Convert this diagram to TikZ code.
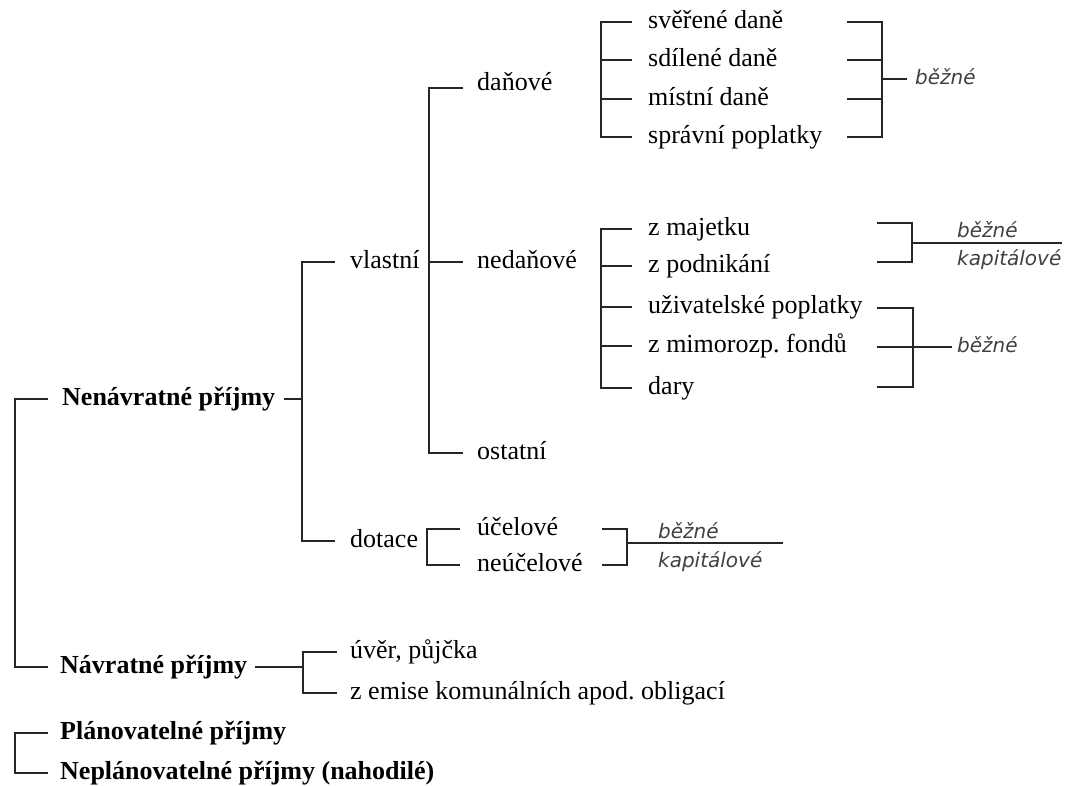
\documentclass[tikz,border=0pt]{standalone}
\usepackage{fontspec}
\setmainfont{Liberation Serif}
\newfontfamily\labfont{DejaVu Sans}
\frenchspacing
\begin{document}
\begin{tikzpicture}[x=1pt,y=-1pt,
  line/.style={line width=1.6pt, draw=black!85},
  txt/.style={anchor=west, inner sep=0pt, font=\fontsize{26}{30}\selectfont, text height=18pt, text depth=6pt},
  head/.style={txt, font=\fontsize{26}{30}\selectfont\bfseries},
  lab/.style={anchor=west, inner sep=0pt, font=\labfont\itshape\fontsize{20}{24}\selectfont, text=black!75, text height=15pt, text depth=5pt}]
\useasboundingbox[fill=white] (0,0) rectangle (1070,785);

% main nodes
\node[head] (nen) at (62,399) {Nenávratné příjmy};
\node[head] (nav) at (60,667) {Návratné příjmy};
\node[head] (pla) at (60,733) {Plánovatelné příjmy};
\node[head] (nep) at (60,773) {Neplánovatelné příjmy (nahodilé)};

\node[txt] (vla) at (350,262) {vlastní};
\node[txt] (dot) at (350,541) {dotace};
\node[txt] (dan) at (477,84) {daňové};
\node[txt] (ned) at (477,262) {nedaňové};
\node[txt] (ost) at (477,453) {ostatní};

\node[txt] (sve) at (648,22) {svěřené daně};
\node[txt] (sdi) at (648,60) {sdílené daně};
\node[txt] (mis) at (648,99) {místní daně};
\node[txt] (spr) at (648,137) {správní poplatky};

\node[txt] (zma) at (648,229) {z majetku};
\node[txt] (zpo) at (648,266) {z podnikání};
\node[txt] (uzi) at (648,307) {uživatelské poplatky};
\node[txt] (zmi) at (648,346) {z mimorozp. fondů};
\node[txt] (dar) at (648,388) {dary};

\node[txt] (uce) at (477,529) {účelové};
\node[txt] (neu) at (477,565) {neúčelové};

\node[txt] (uve) at (350,652) {úvěr, půjčka};
\node[txt] (zem) at (350,693) {z emise komunálních apod. obligací};

% italic labels
\node[lab] (b1) at (915,79) {běžné};
\node[lab] (b2) at (957,232) {běžné};
\node[lab] (k2) at (957,260) {kapitálové};
\node[lab] (b3) at (957,347) {běžné};
\node[lab] (b4) at (658,533) {běžné};
\node[lab] (k4) at (658,562) {kapitálové};

% spines
\coordinate (s0) at (15,0);
\coordinate (s1) at (302,0);
\coordinate (s2) at (429,0);
\coordinate (s3) at (601,0);
\coordinate (s4) at (427,0);
\coordinate (s5) at (303,0);

% left tree
\draw[line] ([xshift=-14]nen.west) -| (s0 |- nav.west) -- ([xshift=-12]nav.west);
\draw[line] ([xshift=9]nen.east) -- (s1 |- nen.east);
\draw[line] ([xshift=-15]vla.west) -| (s1 |- dot.west) -- ([xshift=-15]dot.west);
\draw[line] ([xshift=-14,yshift=-4]dan.west) -| (s2 |- ost.west) -- ([xshift=-14]ost.west);
\draw[line] (s2 |- ned.west) -- ([xshift=-14]ned.west);

\draw[line] ([xshift=-16]sve.west) -| (s3 |- spr.west) -- ([xshift=-16]spr.west);
\draw[line] (s3 |- sdi.west) -- ([xshift=-16]sdi.west);
\draw[line] (s3 |- mis.west) -- ([xshift=-16]mis.west);

\draw[line] ([xshift=-16]zma.west) -| (s3 |- dar.west) -- ([xshift=-16]dar.west);
\draw[line] (s3 |- zpo.west) -- ([xshift=-16]zpo.west);
\draw[line] (s3 |- uzi.west) -- ([xshift=-16]uzi.west);
\draw[line] (s3 |- zmi.west) -- ([xshift=-16]zmi.west);

\draw[line] ([xshift=-17]uce.west) -| (s4 |- neu.west) -- ([xshift=-17]neu.west);

\draw[line] ([xshift=8]nav.east) -- (s5 |- nav.east);
\draw[line] ([xshift=-13]uve.west) -| (s5 |- zem.west) -- ([xshift=-13]zem.west);

\draw[line] ([xshift=-12]pla.west) -| (s0 |- nep.west) -- ([xshift=-12]nep.west);

% right brackets
\coordinate (r1) at (882,0);
\draw[line] (847,22) -| (r1 |- spr.west) -- (847,137);
\draw[line] (847,60) -- (882,60);
\draw[line] (847,99) -- (882,99);
\draw[line] (r1 |- b1.west) -- ([xshift=-8]b1.west);

\draw[line] (877,223) -- (912,223) -- (912,262) -- (877,262);
\draw[line] (912,243) -- (1062,243);

\draw[line] (877,308) -- (913,308) -- (913,387) -- (877,387);
\draw[line] (877,347) -- ([xshift=-5]b3.west);

\draw[line] (602,529) -- (627,529) -- (627,565) -- (602,565);
\draw[line] (627,543) -- (783,543);
\end{tikzpicture}
\end{document}
